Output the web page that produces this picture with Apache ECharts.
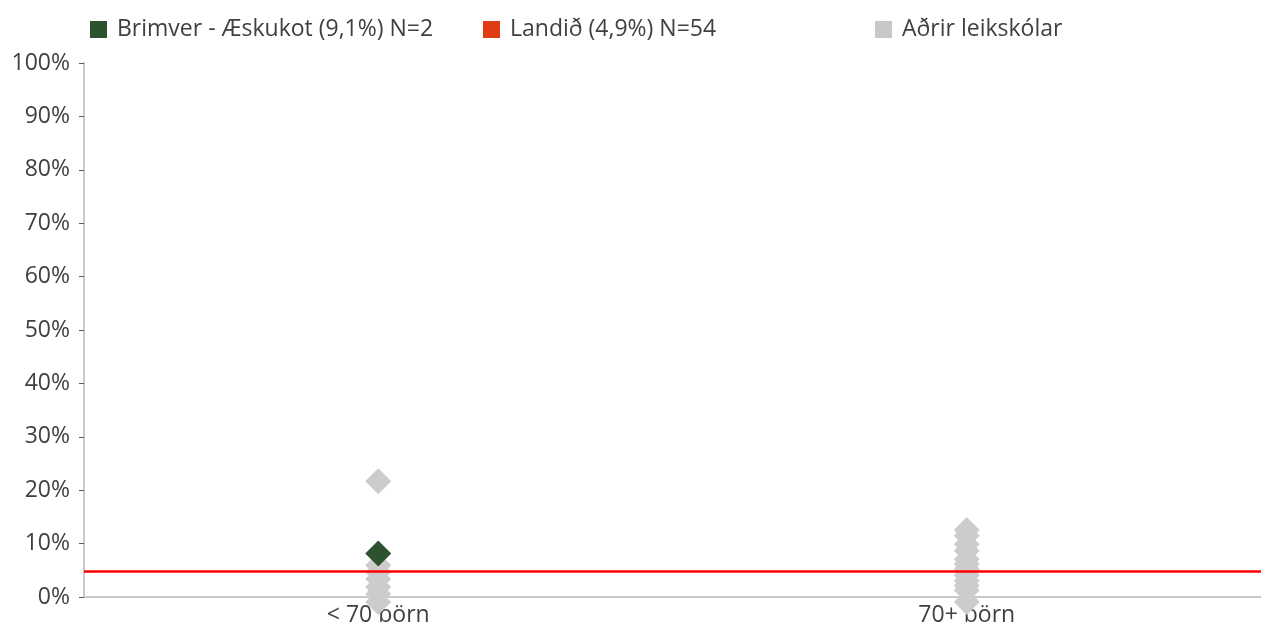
<!DOCTYPE html>
<html>
<head>
<meta charset="utf-8">
<script src="https://cdn.jsdelivr.net/npm/echarts@6/dist/echarts.min.js"></script>
<style>
html,body{margin:0;padding:0;background:#fff;}
#chart{width:1261px;height:625px;}
</style>
</head>
<body>
<div id="chart"></div>
<script>
const categories = ['< 70 börn', '70+ börn'];
const seriesNames = ['Brimver - Æskukot (9,1%) N=2', 'Landið (4,9%) N=54', 'Aðrir leikskólar'];
const brimverValues = [[0, 9.1]];
const landidValue = 4.9;
const otherSmall = [22.6, 6.9, 5.6, 4.3, 2.8, 1.5, 0];
const otherLarge = [13.5, 12.4, 10.8, 9.6, 8.0, 7.1, 6.2, 5.0, 4.0, 3.1, 2.2, 0];
const yTicks = {min: 0, max: 100, interval: 10};

const otherData = otherSmall.map(v => [0, v]).concat(otherLarge.map(v => [1, v]));

const font = '"Open Sans", Lato, sans-serif';
const txt = '#404040';
const fs = 23;

function legendAt(left, name, color) {
  return {left: left, top: 13, padding: 5, itemWidth: 17, itemHeight: 17, icon: 'rect',
    textStyle: {fontSize: fs, color: txt, fontFamily: font, padding: [0, 0, 0, 5]},
    data: [{name: name, itemStyle: {color: color}}]};
}

const chart = echarts.init(document.getElementById('chart'), null, {renderer: 'canvas'});
chart.setOption({
  animation: false,
  textStyle: {fontFamily: font},
  legend: [
    legendAt(85, seriesNames[0], '#2d5230'),
    legendAt(478, seriesNames[1], '#e03c14'),
    legendAt(870, seriesNames[2], '#c8c8c8')
  ],
  grid: {left: 84, right: 0, top: 63, bottom: 28, containLabel: false, outerBoundsMode: 'none'},
  xAxis: {
    type: 'category',
    data: categories,
    boundaryGap: true,
    axisLine: {lineStyle: {color: '#c8c8c8', width: 2}},
    axisTick: {show: false},
    axisLabel: {fontSize: fs, color: txt, margin: 7, fontFamily: font},
    splitLine: {show: false}
  },
  yAxis: {
    type: 'value',
    min: yTicks.min, max: yTicks.max, interval: yTicks.interval,
    axisLine: {show: true, lineStyle: {color: '#c8c8c8', width: 2}},
    axisTick: {show: true, length: 5, lineStyle: {color: '#595959', width: 1}},
    axisLabel: {fontSize: fs, color: txt, margin: 14, formatter: '{value}%', fontFamily: font},
    splitLine: {show: false}
  },
  series: [
    {
      name: seriesNames[1], type: 'line', data: [], z: 1,
      itemStyle: {color: '#e03c14'},
      markLine: {
        silent: true, symbol: 'none', label: {show: false},
        lineStyle: {color: '#ff0000', width: 2.5, type: 'solid'},
        data: [{yAxis: landidValue}]
      }
    },
    {
      name: seriesNames[2], type: 'scatter', z: 2, clip: false,
      symbol: 'diamond', symbolSize: 26, symbolOffset: [0, 5],
      itemStyle: {color: '#cccccc', opacity: 1},
      data: otherData
    },
    {
      name: seriesNames[0], type: 'scatter', z: 3, clip: false,
      symbol: 'diamond', symbolSize: 26, symbolOffset: [0, 5],
      itemStyle: {color: '#2d5230', opacity: 1},
      data: brimverValues
    }
  ]
});
</script>
</body>
</html>
